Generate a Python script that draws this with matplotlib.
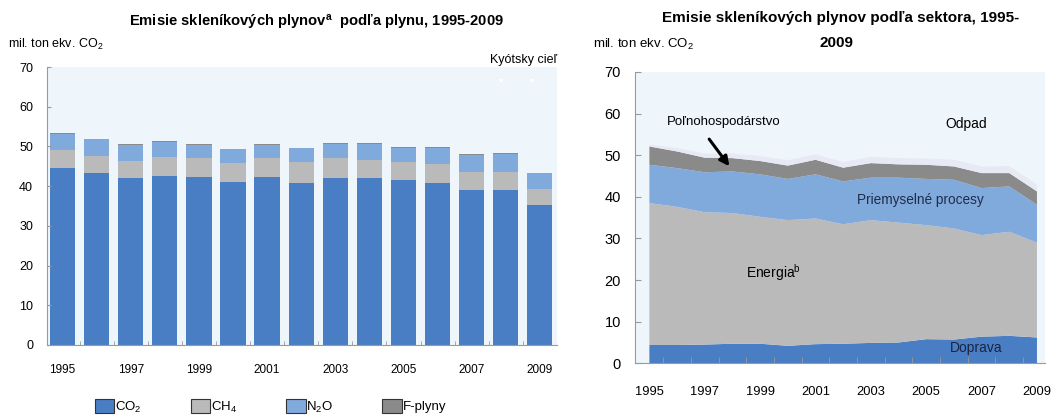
import numpy as np
import matplotlib
matplotlib.use("Agg")
import matplotlib.pyplot as plt
from matplotlib.patches import Patch

plt.rcParams['font.family'] = ['Liberation Sans Narrow', 'Liberation Sans', 'DejaVu Sans']
plt.rcParams['mathtext.default'] = 'regular'

# left chart: emissions by gas (mil. t CO2 eq.)
years = list(range(1995, 2010))
co2 = [44.6, 43.4, 42.1, 42.6, 42.4, 41.1, 42.4, 40.7, 42.1, 42.1, 41.5, 40.9, 39.0, 39.0, 35.2]
ch4 = [4.5, 4.3, 4.2, 4.8, 4.7, 4.7, 4.7, 5.3, 5.0, 4.5, 4.5, 4.8, 4.7, 4.7, 4.1]
n2o = [4.1, 4.2, 4.2, 3.8, 3.4, 3.5, 3.4, 3.5, 3.6, 4.1, 3.7, 4.0, 4.1, 4.3, 3.9]
fgas = [0.1, 0.1, 0.1, 0.1, 0.1, 0.1, 0.1, 0.2, 0.2, 0.2, 0.2, 0.2, 0.2, 0.3, 0.2]
kyoto_target = 66.7

# right chart: emissions by sector
doprava = [4.4, 4.4, 4.5, 4.7, 4.7, 4.2, 4.6, 4.7, 4.9, 5.0, 5.8, 5.7, 6.4, 6.6, 6.2]
energia = [34.1, 33.2, 31.8, 31.4, 30.5, 30.2, 30.2, 28.7, 29.5, 28.8, 27.4, 26.7, 24.4, 25.0, 22.8]
priemysel = [9.2, 9.3, 9.6, 10.0, 10.2, 9.9, 10.6, 10.3, 10.2, 10.8, 11.1, 11.7, 11.3, 10.9, 9.1]
polnohosp = [4.4, 4.0, 3.5, 3.2, 3.2, 3.2, 3.5, 3.3, 3.5, 3.2, 3.4, 3.2, 3.6, 3.2, 3.2]
odpad = [0.5, 0.8, 1.0, 1.1, 1.2, 1.3, 1.3, 1.4, 1.5, 1.5, 1.5, 1.6, 1.6, 1.7, 1.7]

c_blue = '#4a7ec4'
c_gray = '#bababa'
c_lblue = '#80a9dc'
c_dgray = '#8a8a8a'
c_odpad = '#e7e9f4'
bg = '#eef6fc'
spine = '#9a9a9a'

fig = plt.figure(figsize=(10.52, 4.16), dpi=100)

# ---------- left ----------
ax1 = fig.add_axes([0.0447, 0.1707, 0.485, 0.668])
ax1.set_facecolor(bg)
x = np.arange(len(years))
w = 0.74
b = np.zeros(len(years))
for vals, col in [(co2, c_blue), (ch4, c_gray), (n2o, c_lblue), (fgas, c_dgray)]:
    ax1.bar(x, vals, w, bottom=b, color=col, linewidth=0)
    b = b + np.array(vals)
ax1.hlines(kyoto_target, 12.8, 14.5, colors='white', linestyles=(0, (1.2, 10)), linewidth=2)
ax1.set_xlim(-0.455, 14.51)
ax1.set_ylim(0, 70)
ax1.set_yticks(range(0, 71, 10))
ax1.set_xticks(x[::2])
ax1.set_xticklabels([str(y) for y in years[::2]])
ax1.set_xticks(x[:-1] + 0.5, minor=True)
for s in ['top', 'right']:
    ax1.spines[s].set_visible(False)
for s in ['left', 'bottom']:
    ax1.spines[s].set_color(spine)
    ax1.spines[s].set_linewidth(0.8)
ax1.tick_params(axis='y', direction='in', length=3, color=spine, labelsize=9, pad=10)
ax1.tick_params(axis='x', which='major', length=0, labelsize=8.5, pad=14)
ax1.tick_params(axis='x', which='minor', direction='in', length=3, color=spine)
ax1.text(1.0, 1.025, 'Kyótsky cieľ', transform=ax1.transAxes, ha='right', va='center', fontsize=9)

fig.text(0.301, 0.945, r'Emisie skleníkových plynov$^{a}$  podľa plynu, 1995-2009',
         ha='center', va='center', fontsize=10.6, fontweight='bold')
fig.text(0.008, 0.892, r'mil. ton ekv. CO$_2$', ha='left', va='center', fontsize=9)

handles = [Patch(facecolor=c, edgecolor='#333333', linewidth=0.8) for c in [c_blue, c_gray, c_lblue, c_dgray]]
labels = [r'CO$_2$', r'CH$_4$', r'N$_2$O', 'F-plyny']
fig.legend(handles, labels, loc='center', bbox_to_anchor=(0.257, 0.022), ncol=4, frameon=False,
           fontsize=9.5, handlelength=1.5, handleheight=1.2, handletextpad=0.05, columnspacing=3.7)

# ---------- right ----------
ax2 = fig.add_axes([0.6036, 0.1267, 0.39, 0.7003])
ax2.set_facecolor(bg)
ax2.stackplot(years, doprava, energia, priemysel, polnohosp, odpad,
              colors=[c_blue, c_gray, c_lblue, c_dgray, c_odpad], linewidth=0)
ax2.set_xlim(1994.48, 2009.3)
ax2.set_ylim(0, 70)
ax2.set_yticks(range(0, 71, 10))
ax2.set_xticks(years[::2])
ax2.set_xticks(np.array(years[:-1]) + 0.5, minor=True)
for s in ['top', 'right']:
    ax2.spines[s].set_visible(False)
for s in ['left', 'bottom']:
    ax2.spines[s].set_color(spine)
    ax2.spines[s].set_linewidth(0.8)
ax2.tick_params(axis='y', direction='in', length=4, color=spine, labelsize=10.5, pad=10)
ax2.tick_params(axis='x', which='major', length=0, labelsize=9.3, pad=16)
ax2.tick_params(axis='x', which='minor', direction='in', length=4, color=spine)

ax2.text(1997.7, 58, 'Poľnohospodárstvo', ha='center', va='center', fontsize=9.5)
ax2.annotate('', xy=(1997.95, 46.8), xytext=(1997.1, 54.4),
             arrowprops=dict(arrowstyle='-|>', color='black', lw=2.2, mutation_scale=14))
ax2.text(2006.45, 57.5, 'Odpad', ha='center', va='center', fontsize=10)
ax2.text(2004.8, 39.3, 'Priemyselné procesy', ha='center', va='center', fontsize=9.8, color='#1f2d4a')
ax2.text(1999.5, 21.8, r'Energia$^{b}$', ha='center', va='center', fontsize=10)
ax2.text(2006.8, 3.7, 'Doprava', ha='center', va='center', fontsize=10, color='#1a2440')

fig.text(0.799, 0.956, 'Emisie skleníkových plynov podľa sektora, 1995-', ha='center', va='center',
         fontsize=11, fontweight='bold')
fig.text(0.795, 0.896, '2009', ha='center', va='center', fontsize=11, fontweight='bold')
fig.text(0.564, 0.892, r'mil. ton ekv. CO$_2$', ha='left', va='center', fontsize=9.5)

fig.savefig('out.png', dpi=100)
